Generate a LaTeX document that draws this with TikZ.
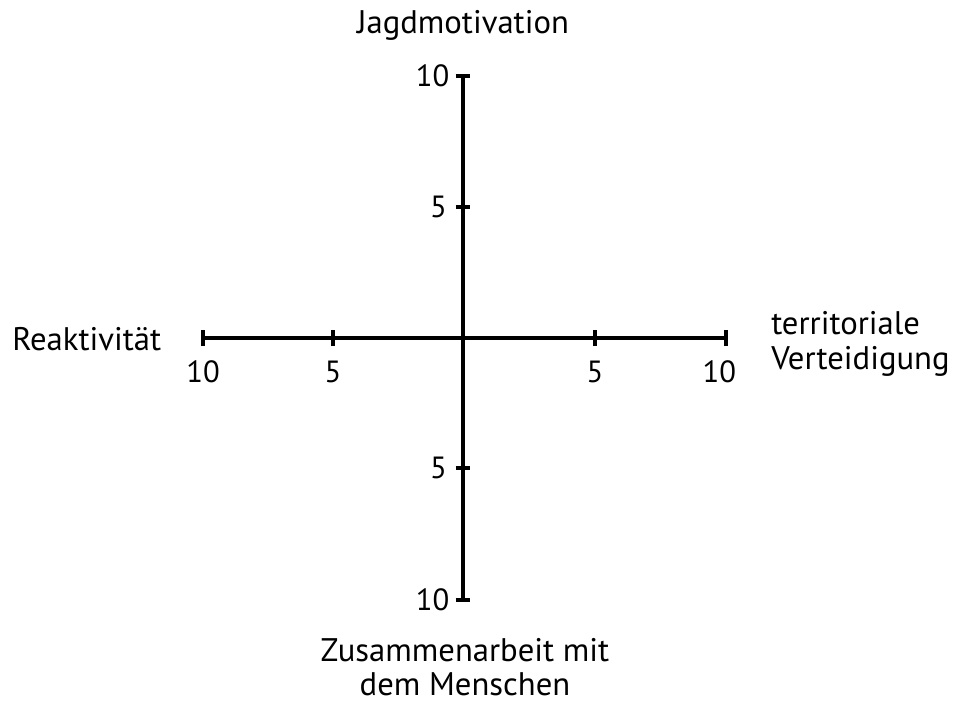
\documentclass[tikz,border=0pt]{standalone}
\usepackage{fontspec}
\setmainfont{PT Sans}
\usetikzlibrary{positioning}

\begin{document}
\begin{tikzpicture}[
    x=0.75pt, y=-0.75pt,
    node distance=10pt,
    axis/.style={line width=2.5pt, line cap=rect},
    tick/.style={line width=2.3pt},
    title/.style={font=\fontsize{24.5}{26.3}\selectfont, inner sep=0pt, align=center},
    num/.style={font=\fontsize{23}{26}\selectfont, inner sep=0pt}
]
\useasboundingbox (0,0) rectangle (957,704);

% Axis ends and ticks
\coordinate (o) at (463,338);
\coordinate (top) at (463,76);
\coordinate (topfive) at (463,207);
\coordinate (botfive) at (463,468);
\coordinate (bot) at (463,600);
\coordinate (left) at (203,338);
\coordinate (leftfive) at (333,338);
\coordinate (rightfive) at (595,338);
\coordinate (right) at (726,338);

% Axes
\draw[axis] (top) -- (bot);
\draw[axis] (left) -- (right);

% Tick marks
\foreach \t in {top,topfive,botfive,bot}
    \draw[tick] ([xshift=-5.5pt]\t) -- ([xshift=5.5pt]\t);
\foreach \t in {left,leftfive,rightfive,right}
    \draw[tick] ([yshift=-6pt]\t) -- ([yshift=6pt]\t);

% Tick labels
\node[num, left=10pt of top] (ntop) {10};
\node[num, left=12pt of topfive] (ntopfive) {5};
\node[num, left=12pt of botfive] (nbotfive) {5};
\node[num, left=10pt of bot] (nbot) {10};
\node[num, below=17pt of left] (nleft) {10};
\node[num, below=17pt of leftfive] (nleftfive) {5};
\node[num, below=17pt of rightfive] (nrightfive) {5};
\node[num, below=17pt of right, xshift=-5pt] (nright) {10};

% Axis titles
\node[title] (jagd) at (463,25) {Jagdmotivation};
\node[title, anchor=west] (reakt) at (12,339) {Reaktivität};
\node[title, anchor=west, align=left] (terr) at (771,344) {territoriale\\Verteidigung};
\node[title, font=\fontsize{24.5}{25.5}\selectfont] (zus) at (465,667) {Zusammenarbeit mit\\dem Menschen};

\end{tikzpicture}
\end{document}
